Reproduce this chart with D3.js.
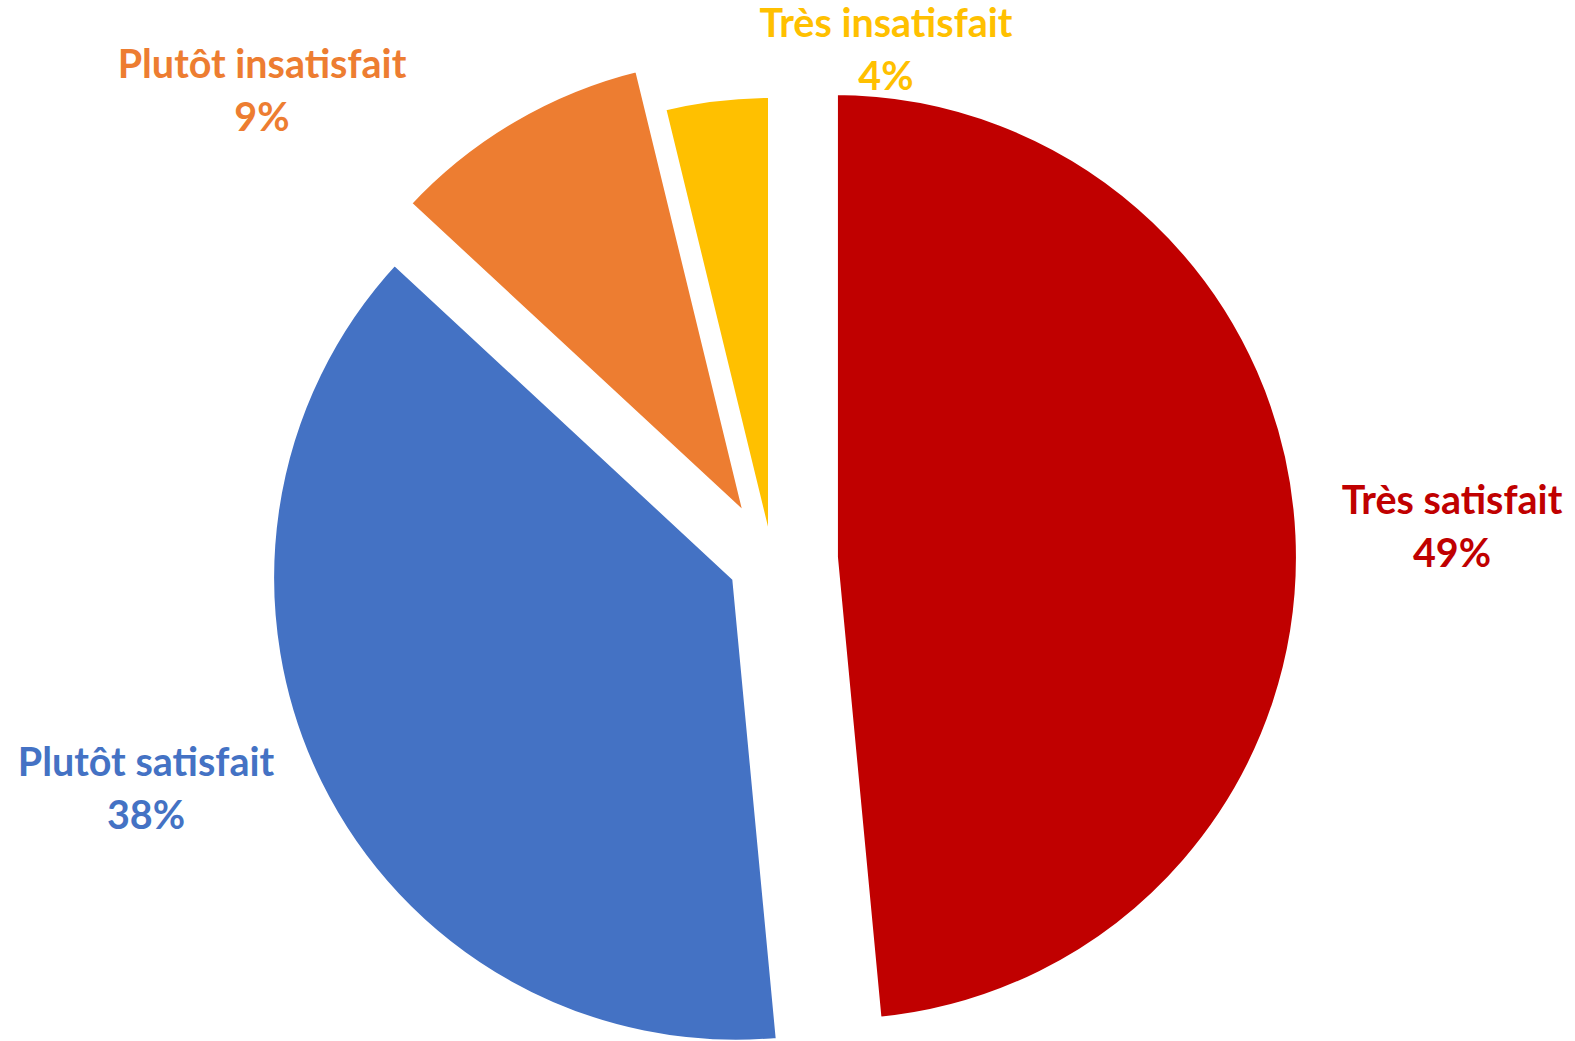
<!DOCTYPE html>
<html>
<head>
<meta charset="utf-8">
<script src="https://cdn.jsdelivr.net/npm/d3@7"></script>
<style>
  html, body { margin: 0; padding: 0; background: #fff; }
  #plot_area { width: 1575px; height: 1041px; }
</style>
</head>
<body>
<div id="plot_area"></div>
<script>
// data (slice angles), labels show rounded percentages
var categories = ["Très satisfait", "Plutôt satisfait", "Plutôt insatisfait", "Très insatisfait"];
var values = [48.5, 38.4, 9.3, 3.8];

// styling / layout
var colors = ["#C00000", "#4472C4", "#ED7D31", "#FFC000"];
var explode = [62, 40, 46, 0];
var labelPos = [[1452, 540], [146, 802], [262, 104], [886, 63]];

var width = 1575, height = 1041;
var cx = 772, cy = 560, radius = 466;

var Svg = d3.select('#plot_area')
  .append("svg")
  .attr("width", width)
  .attr("height", height)

var g = Svg.append("g")
  .attr("transform", "translate(" + cx + "," + cy + ")")

var pie = d3.pie().sort(null).value(function(d) { return d; })
var arc = d3.arc().innerRadius(0).outerRadius(radius)

var slices = pie(values)

// exploded slices, white border eats the thin tips like in the original
g.selectAll("path")
  .data(slices)
  .enter()
  .append("path")
  .attr("d", arc)
  .attr("transform", function(d, i) {
    var mid = (d.startAngle + d.endAngle) / 2
    return "translate(" + explode[i] * Math.sin(mid) + "," + (-explode[i] * Math.cos(mid)) + ")"
  })
  .style("fill", function(d, i) { return colors[i] })
  .style("stroke", "#fff")
  .style("stroke-width", 8)

// labels: category on first line, percent on second
var labels = Svg.selectAll("text.lbl")
  .data(slices)
  .enter()
  .append("text")
  .attr("class", "lbl")
  .attr("text-anchor", "middle")
  .style("font-family", "Lato, 'Open Sans', sans-serif")
  .style("font-weight", "bold")
  .style("font-size", "39.5px")
  .style("fill", function(d, i) { return colors[i] })

labels.append("tspan")
  .attr("x", function(d, i) { return labelPos[i][0] })
  .attr("y", function(d, i) { return labelPos[i][1] - 26.5 })
  .text(function(d, i) { return categories[i] })

labels.append("tspan")
  .attr("x", function(d, i) { return labelPos[i][0] })
  .attr("y", function(d, i) { return labelPos[i][1] + 26.5 })
  .text(function(d) { return Math.round(d.value) + "%" })
</script>
</body>
</html>
